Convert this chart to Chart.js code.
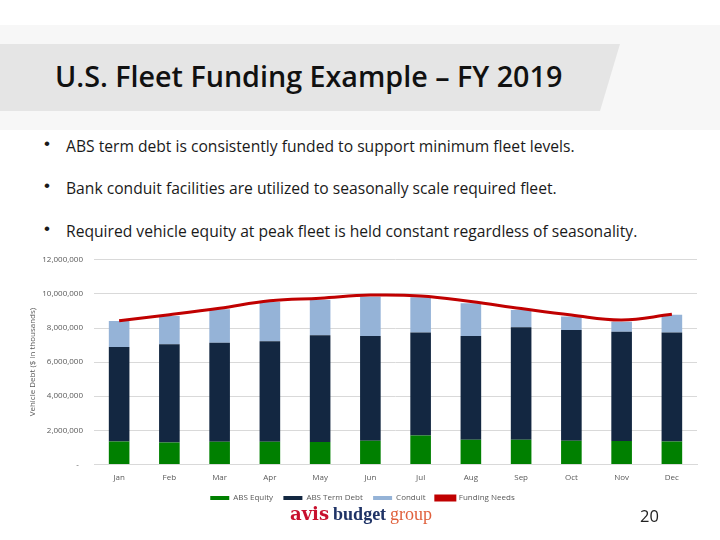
<!DOCTYPE html>
<html>
<head>
<meta charset="utf-8">
<script src="https://cdn.jsdelivr.net/npm/chart.js@4"></script>
<style>
  html, body { margin:0; padding:0; background:#ffffff; }
  body { width:720px; height:540px; position:relative; overflow:hidden; font-family:"Open Sans", sans-serif; }
  .band { position:absolute; left:0; top:25px; width:720px; height:105px; background:#f7f7f7; }
  .banner { position:absolute; left:0; top:44px; width:620px; height:67px; background:#e5e5e5;
            clip-path: polygon(0 0, 620px 0, 600px 67px, 0 67px); }
  .title { position:absolute; left:55px; top:56px; font-size:28.7px; font-weight:600; color:#111; white-space:nowrap; }
  .bullet { position:absolute; left:45px; font-size:15.65px; color:#1a1a1a; white-space:nowrap; }
  .bullet span.dot { position:absolute; left:-1px; font-family:"Liberation Sans", Arial, sans-serif; font-size:17px; top:-1px; }
  .bullet span.txt { position:absolute; left:21px; }
  #wrap { position:absolute; left:0; top:250px; width:720px; height:264px; }
  #wrap canvas { display:block; }
  .logo { position:absolute; left:290px; top:501px; font-size:18px; white-space:nowrap; }
  .logo .a { color:#c8102e; font-weight:bold; font-family:"DejaVu Serif", serif; }
  .logo .b { color:#1f3366; font-weight:bold; font-family:"Liberation Serif", serif; margin-left:4px; }
  .logo .g { color:#e0603c; font-family:"Liberation Serif", serif; font-weight:normal; margin-left:4px; }
  .page { position:absolute; left:640px; top:504px; font-size:16.5px; color:#222; }
</style>
</head>
<body>
<div class="band"></div>
<div class="banner"></div>
<div class="title">U.S. Fleet Funding Example – FY 2019</div>
<div class="bullet" style="top:135px;"><span class="dot">•</span><span class="txt">ABS term debt is consistently funded to support minimum fleet levels.</span></div>
<div class="bullet" style="top:177px;"><span class="dot">•</span><span class="txt">Bank conduit facilities are utilized to seasonally scale required fleet.</span></div>
<div class="bullet" style="top:220px;"><span class="dot">•</span><span class="txt">Required vehicle equity at peak fleet is held constant regardless of seasonality.</span></div>
<div id="wrap"><canvas id="c" width="720" height="264"></canvas></div>
<div class="logo"><span class="a">avis</span><span class="b">budget</span><span class="g">group</span></div>
<div class="page">20</div>
<script>
const months = ["Jan","Feb","Mar","Apr","May","Jun","Jul","Aug","Sep","Oct","Nov","Dec"];
const absEquity = [1350000,1290000,1330000,1330000,1310000,1390000,1690000,1450000,1450000,1390000,1370000,1350000];
const absTermDebt = [5530000,5750000,5810000,5890000,6260000,6140000,6040000,6080000,6590000,6490000,6410000,6380000];
const conduit = [1530000,1670000,1960000,2310000,2080000,2310000,2070000,1920000,1020000,790000,590000,1050000];
const fundingNeeds = [8430000,8780000,9160000,9600000,9750000,9930000,9880000,9550000,9140000,8760000,8470000,8800000];
const yTicks = [0,2000000,4000000,6000000,8000000,10000000,12000000];

const tickFont = { family: "'Open Sans', sans-serif", size: 8 };
new Chart(document.getElementById('c'), {
  type: 'bar',
  data: {
    labels: months,
    datasets: [
      { label: 'ABS Equity', data: absEquity, backgroundColor: '#008000', stack: 'fund', categoryPercentage: 0.82, barPercentage: 0.5 },
      { label: 'ABS Term Debt', data: absTermDebt, backgroundColor: '#132741', stack: 'fund', categoryPercentage: 0.82, barPercentage: 0.5 },
      { label: 'Conduit', data: conduit, backgroundColor: '#95b3d7', stack: 'fund', categoryPercentage: 0.82, barPercentage: 0.5 },
      { label: 'Funding Needs', type: 'line', data: fundingNeeds, borderColor: '#c00000', backgroundColor: '#c00000',
        borderWidth: 3, pointRadius: 0, tension: 0.4, stack: 'needs', order: -1 }
    ]
  },
  options: {
    responsive: false,
    animation: false,
    layout: { padding: { left: 28, right: 23, top: 4, bottom: 2 } },
    plugins: {
      tooltip: { enabled: false },
      legend: {
        position: 'bottom',
        labels: {
          boxWidth: 19, boxHeight: 4, padding: 2, color: '#595959', font: tickFont,
          sort: (a, b) => a.datasetIndex - b.datasetIndex,
          generateLabels: (chart) => {
            const items = Chart.defaults.plugins.legend.labels.generateLabels(chart);
            items.forEach((it) => { if (it.datasetIndex < 3) it.text = it.text + '    '; });
            return items;
          }
        }
      }
    },
    scales: {
      x: {
        stacked: true,
        grid: { display: false, drawTicks: false },
        border: { display: true, color: '#d9d9d9' },
        ticks: { color: '#595959', font: tickFont, padding: 9 }
      },
      y: {
        stacked: true,
        min: 0, max: 12000000,
        afterBuildTicks: (scale) => { scale.ticks = yTicks.map(v => ({ value: v })); },
        afterFit: (scale) => { scale.width = 66; },
        grid: { color: '#d9d9d9', drawTicks: true, tickLength: 6, tickColor: 'rgba(0,0,0,0)' },
        border: { display: false },
        ticks: {
          color: '#595959', font: tickFont, padding: 5,
          callback: (v) => v === 0 ? '-  ' : Number(v).toLocaleString('en-US')
        },
        title: { display: true, text: 'Vehicle Debt ($ in thousands)', color: '#595959', font: tickFont, padding: { top: 0 } }
      }
    }
  }
});
</script>
</body>
</html>
